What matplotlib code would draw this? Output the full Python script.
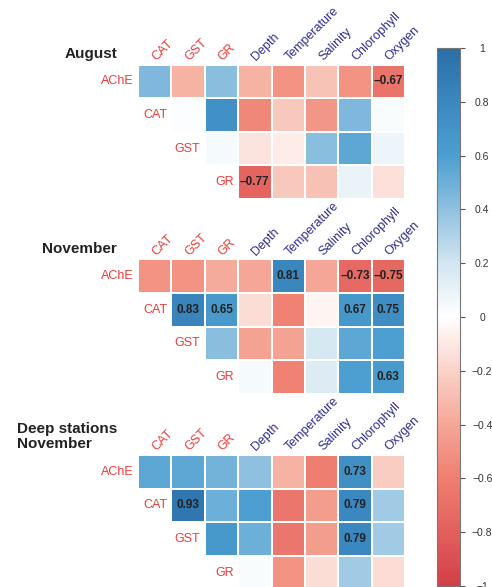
import numpy as np
import matplotlib.pyplot as plt
from matplotlib.colors import LinearSegmentedColormap

plt.rcParams['font.family'] = ['Liberation Sans', 'DejaVu Sans']

# labels
rows = ["AChE", "CAT", "GST", "GR"]
cols = ["CAT", "GST", "GR", "Depth", "Temperature", "Salinity", "Chlorophyll", "Oxygen"]
red_cols = ["CAT", "GST", "GR"]

# correlations, one list per row (only the upper triangle is shown)
aug_ache = [0.45, -0.35, 0.42, -0.35, -0.50, -0.27, -0.50, -0.67]
aug_cat = [0.02, 0.72, -0.55, -0.25, -0.48, 0.45, 0.03]
aug_gst = [0.04, -0.12, -0.08, 0.42, 0.55, 0.08]
aug_gr = [-0.77, -0.25, -0.28, 0.10, -0.14]
aug_sig = [(0, 7), (3, 3)]

nov_ache = [-0.50, -0.50, -0.38, -0.40, 0.81, -0.40, -0.73, -0.75]
nov_cat = [0.83, 0.65, -0.15, -0.58, -0.05, 0.67, 0.75]
nov_gst = [0.42, -0.42, -0.42, 0.18, 0.55, 0.60]
nov_gr = [0.04, -0.58, 0.15, 0.60, 0.63]
nov_sig = [(0, 4), (0, 6), (0, 7), (1, 1), (1, 2), (1, 6), (1, 7), (3, 7)]

deep_ache = [0.55, 0.55, 0.48, 0.40, -0.35, -0.60, 0.73, -0.22]
deep_cat = [0.93, 0.50, 0.60, -0.65, -0.45, 0.79, 0.35]
deep_gst = [0.65, 0.50, -0.65, -0.45, 0.79, 0.35]
deep_gr = [0.03, -0.50, -0.15, 0.35, -0.15]
deep_sig = [(0, 6), (1, 1), (1, 6), (2, 6)]

panels = [
    ("August", [aug_ache, aug_cat, aug_gst, aug_gr], aug_sig, 0.661),
    ("November", [nov_ache, nov_cat, nov_gst, nov_gr], nov_sig, 0.329),
    ("Deep stations\nNovember", [deep_ache, deep_cat, deep_gst, deep_gr], deep_sig, -0.004),
]

cmap = LinearSegmentedColormap.from_list("rdbu", [
    (0.0, "#d33f49"), (0.1, "#e2605c"), (0.2, "#ee7f70"), (0.3, "#f5a797"),
    (0.4, "#fad2c8"), (0.5, "#ffffff"), (0.6, "#d2e6f1"), (0.7, "#90c1e0"),
    (0.8, "#4c9fd0"), (0.9, "#3b88c0"), (1.0, "#2a6fa6")])

fig = plt.figure(figsize=(4.92, 5.87), dpi=100)

for title, data, sig, bottom in panels:
    ax = fig.add_axes([0.2805, bottom, 0.5427, 0.229])
    m = np.full((4, 8), np.nan)
    for i, vals in enumerate(data):
        m[i, i:] = vals
    mask = np.ma.masked_invalid(m)
    ax.pcolormesh(np.arange(9), np.arange(5), mask, cmap=cmap, vmin=-1, vmax=1,
                  edgecolor="white", linewidth=0.2)
    ax.set_xlim(0, 8)
    ax.set_ylim(4, 0)
    ax.axis("off")
    for i, j in sig:
        v = m[i, j]
        ax.text(j + 0.5, i + 0.5, f"{v:.2f}".replace("-", "\u2013"), ha="center", va="center",
                fontsize=8.5, fontweight="bold", color="#222222")
    for i, r in enumerate(rows):
        ax.text(i - 0.13, i + 0.5, r, ha="right", va="center", fontsize=9, color="#ec3b3b")
    for j, c in enumerate(cols):
        ax.text(j + 0.6, -0.05, c, rotation=45, rotation_mode="anchor", ha="left", va="bottom",
                fontsize=9, color="#ec3b3b" if c in red_cols else "#2e2e8f")
    ax.text(-0.63, -0.2, title, ha="right", va="baseline", multialignment="left", fontsize=11,
            fontweight="bold", color="#222222", linespacing=1.15)

cax = fig.add_axes([0.888, 0.0017, 0.047, 0.9165])
grad = np.linspace(-1, 1, 256).reshape(-1, 1)
cax.pcolormesh([0, 1], np.linspace(-1, 1, 257), grad, cmap=cmap, vmin=-1, vmax=1)
cax.set_xlim(0, 1)
cax.set_ylim(-1, 1)
cax.set_xticks([])
ticks = np.round(np.arange(-1, 1.01, 0.2), 1)
cax.yaxis.tick_right()
cax.set_yticks(ticks)
cax.set_yticklabels([("0" if t == 0 else f"{t:g}").replace("-", "\u2212") for t in ticks])
cax.tick_params(axis="y", length=3.5, width=0.8, color="#555555", pad=12.5, labelsize=7.5,
                labelcolor="#333333")
for lab in cax.get_yticklabels():
    lab.set_horizontalalignment("center")
for s in cax.spines.values():
    s.set_color("#777777")
    s.set_linewidth(0.8)

fig.savefig("out.png", dpi=100)
